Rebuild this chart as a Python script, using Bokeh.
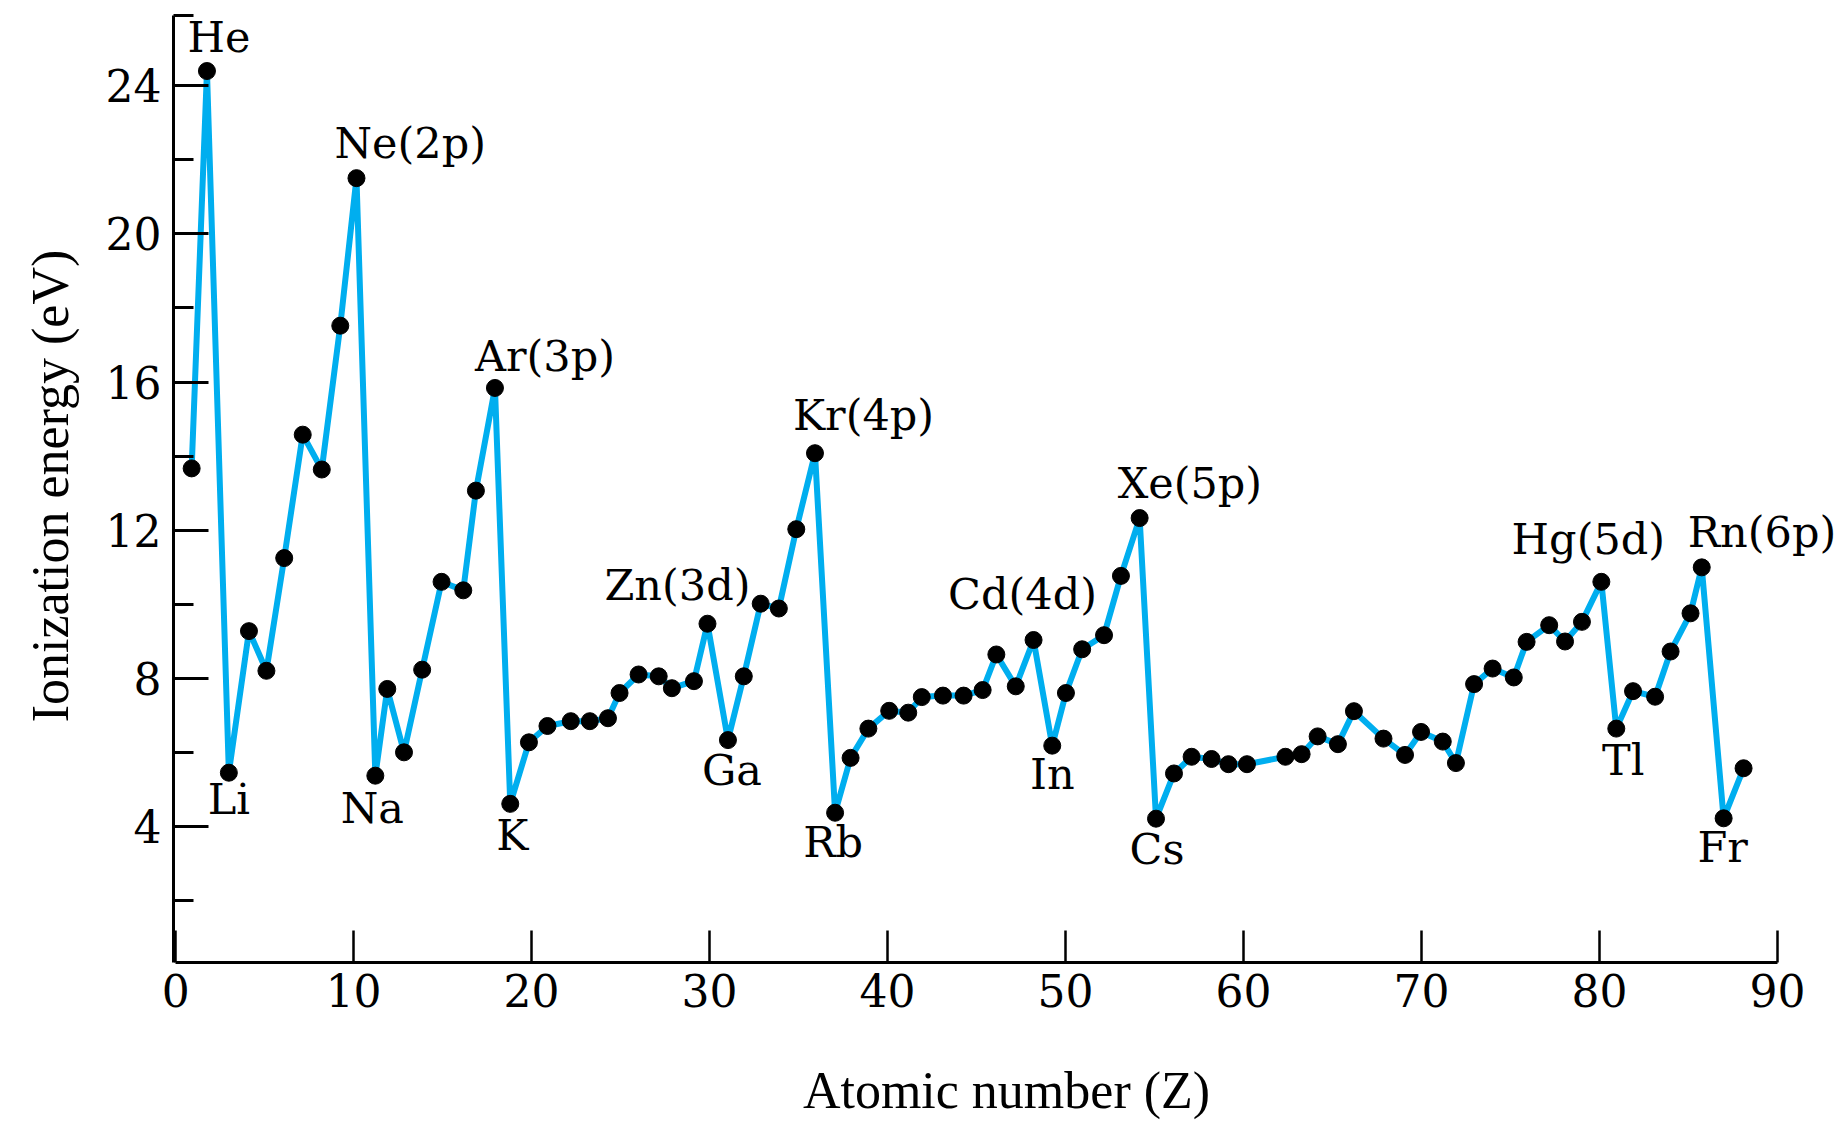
from bokeh.plotting import figure
from bokeh.models import Label, FixedTicker, Range1d, ColumnDataSource
from bokeh.embed import file_html
from bokeh.resources import INLINE

# ---- data ----
atomic_number = [0.90, 1.76, 2.99, 4.12, 5.10, 6.10, 7.14, 8.21, 9.25, 10.16,
                 11.22, 11.89, 12.83, 13.85, 14.94, 16.16, 16.87, 17.94,
                 18.80, 19.85, 20.89, 22.20, 23.27, 24.29, 24.94, 26.01, 27.14, 27.88, 29.12, 29.88,
                 31.03, 31.92, 32.87, 33.89, 34.87, 35.92,
                 37.05, 37.92, 38.92, 40.09, 41.16, 41.92, 43.11, 44.27, 45.34, 46.11, 47.20, 48.20,
                 49.25, 50.02, 50.93, 52.16, 53.11, 54.16,
                 55.08, 56.09, 57.08, 58.20, 59.15, 60.19, 62.35, 63.26, 64.16, 65.30, 66.20, 67.86,
                 69.07, 69.97, 71.19, 71.93,
                 72.95, 73.99, 75.18, 75.90, 77.17, 78.06, 79.01, 80.10,
                 80.94, 81.88, 83.12, 83.99, 85.11, 85.74,
                 86.97, 88.09]
ionization_ev = [13.67, 24.39, 5.46, 9.28, 8.21, 11.25, 14.58, 13.64, 17.52, 21.50,
                 5.38, 7.72, 6.01, 8.24, 10.61, 10.38, 13.07, 15.84,
                 4.62, 6.28, 6.72, 6.85, 6.85, 6.93, 7.61, 8.11, 8.06, 7.74, 7.93, 9.48,
                 6.34, 8.06, 10.02, 9.89, 12.03, 14.08,
                 4.38, 5.86, 6.65, 7.13, 7.08, 7.50, 7.54, 7.54, 7.69, 8.65, 7.79, 9.04,
                 6.19, 7.61, 8.79, 9.17, 10.77, 12.33,
                 4.22, 5.44, 5.89, 5.83, 5.69, 5.69, 5.89, 5.96, 6.44, 6.23, 7.12, 6.38,
                 5.94, 6.56, 6.30, 5.72,
                 7.85, 8.27, 8.03, 8.99, 9.44, 9.00, 9.53, 10.61,
                 6.65, 7.66, 7.51, 8.73, 9.76, 11.00,
                 4.23, 5.58]

label_texts = ["He", "Li", "Ne(2p)", "Na", "Ar(3p)", "K", "Zn(3d)", "Ga", "Kr(4p)", "Rb",
               "Cd(4d)", "In", "Xe(5p)", "Cs", "Hg(5d)", "Tl", "Rn(6p)", "Fr"]
label_points = [1, 2, 9, 10, 17, 18, 29, 30, 35, 36, 47, 48, 53, 54, 77, 78, 83, 84]

x_ticks = [0, 10, 20, 30, 40, 50, 60, 70, 80, 90]
y_ticks = [4, 8, 12, 16, 20, 24]
y_minor = [2, 6, 10, 14, 18, 22, 25.9]

# ---- placement of the element labels (screen px: dx right, up = upward) ----
label_style = {
    "He": (12, 16, "center"), "Li": (0, -44, "center"),
    "Ne(2p)": (-22, 17, "left"), "Na": (-3, -50, "center"),
    "Ar(3p)": (-20, 14, "left"), "K": (2, -49, "center"),
    "Zn(3d)": (-30, 21, "center"), "Ga": (4, -48, "center"),
    "Kr(4p)": (-22, 20, "left"), "Rb": (-2, -47, "center"),
    "Cd(4d)": (-11, 28, "center"), "In": (0, -46, "center"),
    "Xe(5p)": (-22, 17, "left"), "Cs": (1, -48, "center"),
    "Hg(5d)": (-13, 25, "center"), "Tl": (7, -49, "center"),
    "Rn(6p)": (-14, 17, "left"), "Fr": (-1, -47, "center"),
}
BASELINE_FIX = 18  # Label "alphabetic" anchor sits lower than the glyph baseline

SERIF = "DejaVu Serif"
TITLE_FONT = "Liberation Serif"

p = figure(width=1840, height=1122, output_backend="svg", toolbar_location=None,
           x_range=Range1d(-0.12, 93.48), y_range=Range1d(0.34, 26.05),
           min_border_left=173, min_border_right=1, min_border_top=9, min_border_bottom=160)
p.outline_line_color = None
p.grid.visible = False
p.background_fill_color = "white"
p.border_fill_color = "white"

src = ColumnDataSource(dict(z=atomic_number, e=ionization_ev))
p.line("z", "e", source=src, line_color="#00AEEF", line_width=6, line_join="round")
p.scatter("z", "e", source=src, size=17, fill_color="black", line_color="black")

# x axis
xa = p.xaxis[0]
xa.ticker = FixedTicker(ticks=x_ticks, minor_ticks=[])
xa.bounds = (0, 90)
xa.major_tick_in = 32
xa.major_tick_out = 0
xa.minor_tick_in = 0
xa.minor_tick_out = 0
xa.axis_line_width = 3
xa.axis_line_color = "black"
xa.major_tick_line_width = 2.5
xa.major_tick_line_color = "black"
xa.major_label_text_font = SERIF
xa.major_label_text_font_size = "44px"
xa.major_label_text_color = "black"
xa.major_label_standoff = 11
xa.axis_label = "Atomic number (Z)"
xa.axis_label_text_font = TITLE_FONT
xa.axis_label_text_font_size = "52px"
xa.axis_label_text_font_style = "normal"
xa.axis_label_text_color = "black"
xa.axis_label_standoff = 52

# y axis
ya = p.yaxis[0]
ya.ticker = FixedTicker(ticks=y_ticks, minor_ticks=y_minor)
ya.bounds = (0.34, 25.9)
ya.major_tick_in = 35
ya.major_tick_out = 0
ya.minor_tick_in = 20
ya.minor_tick_out = 0
ya.axis_line_width = 3
ya.axis_line_color = "black"
ya.major_tick_line_width = 3
ya.minor_tick_line_width = 3
ya.major_tick_line_color = "black"
ya.minor_tick_line_color = "black"
ya.major_label_text_font = SERIF
ya.major_label_text_font_size = "44px"
ya.major_label_text_color = "black"
ya.major_label_standoff = 12
ya.axis_label = "Ionization energy (eV)"
ya.axis_label_text_font = TITLE_FONT
ya.axis_label_text_font_size = "52px"
ya.axis_label_text_font_style = "normal"
ya.axis_label_text_color = "black"
ya.axis_label_standoff = 24

for txt, idx in zip(label_texts, label_points):
    dx, up, align = label_style[txt]
    p.add_layout(Label(x=atomic_number[idx], y=ionization_ev[idx], x_offset=dx,
                       y_offset=up + BASELINE_FIX,
                       text=txt, text_font=SERIF, text_font_size="43px",
                       text_align=align, text_baseline="alphabetic", text_color="black"))

open("out.html", "w").write(file_html(p, INLINE))
